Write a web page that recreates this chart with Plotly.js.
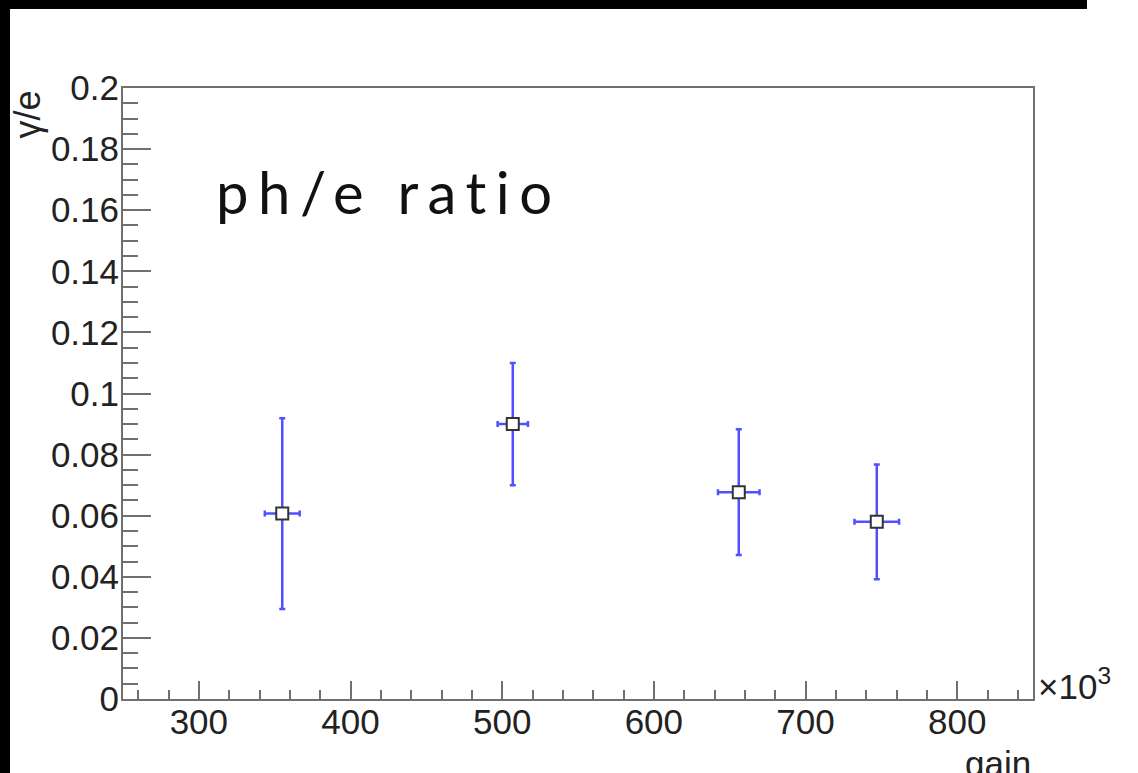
<!DOCTYPE html>
<html>
<head>
<meta charset="utf-8">
<script src="https://cdn.plot.ly/plotly-3.0.1.min.js"></script>
<style>
  html, body { margin: 0; padding: 0; background: #fff; }
  #chart { width: 1138px; height: 773px; position: absolute; left: 0; top: 0; }
  .bar { position: absolute; background: #000; z-index: 10; }
  #chart .annotation[data-index="0"] text { letter-spacing: 9.5px; }
</style>
</head>
<body>
<div id="chart"></div>
<div class="bar" style="left:0;top:0;width:1087px;height:9px;"></div>
<div class="bar" style="left:0;top:0;width:10px;height:773px;"></div>
<script>
// Data (gain in units of 10^3)
const gain = [355, 507, 656, 747];
const gainErr = [11.5, 10, 13.7, 14.7];
const ratio = [0.0607, 0.0900, 0.0677, 0.0580];
const ratioErr = [0.0312, 0.0200, 0.0206, 0.0188];
const xTicks = [300, 400, 500, 600, 700, 800];
const yTicks = [0, 0.02, 0.04, 0.06, 0.08, 0.1, 0.12, 0.14, 0.16, 0.18, 0.2];
const yTickText = ['0', '0.02', '0.04', '0.06', '0.08', '0.1', '0.12', '0.14', '0.16', '0.18', '0.2'];

const axisColor = '#707070';
const tickFont = {family: 'Liberation Sans, Arial, sans-serif', size: 35, color: '#222'};

const trace = {
  type: 'scatter',
  mode: 'markers',
  x: gain,
  y: ratio,
  error_x: {type: 'data', array: gainErr, visible: true, color: 'rgb(80,80,255)', thickness: 2.5, width: 3},
  error_y: {type: 'data', array: ratioErr, visible: true, color: 'rgb(80,80,255)', thickness: 2.5, width: 3},
  marker: {symbol: 'square', size: 12, color: '#fff', line: {color: '#333', width: 2}},
  hoverinfo: 'skip'
};

const layout = {
  width: 1138, height: 773,
  margin: {l: 123, r: 105, t: 88, b: 74},
  paper_bgcolor: '#fff', plot_bgcolor: '#fff',
  showlegend: false,
  xaxis: {
    range: [250, 850],
    tickvals: xTicks,
    ticks: 'inside', ticklen: 18, tickwidth: 2, tickcolor: axisColor,
    minor: {dtick: 20, ticks: 'inside', ticklen: 9, tickwidth: 2, tickcolor: axisColor, showgrid: false},
    showline: true, linecolor: axisColor, linewidth: 2, mirror: true,
    showgrid: false, zeroline: false,
    ticklabelstandoff: -9,
    tickfont: tickFont
  },
  yaxis: {
    range: [0, 0.2],
    tickvals: yTicks, ticktext: yTickText,
    ticks: 'inside', ticklen: 28, tickwidth: 2, tickcolor: axisColor,
    minor: {dtick: 0.005, ticks: 'inside', ticklen: 15, tickwidth: 2, tickcolor: axisColor, showgrid: false},
    showline: true, linecolor: axisColor, linewidth: 2, mirror: true,
    showgrid: false, zeroline: false,
    ticklabelstandoff: -5,
    tickfont: tickFont
  },
  annotations: [
    {text: 'ph/e ratio', xref: 'paper', yref: 'paper', x: 0.292, y: 0.89, xanchor: 'center', yanchor: 'top',
     showarrow: false, font: {family: 'Lato, sans-serif', size: 58, color: '#111'}},
    {text: '\u03b3/e', xref: 'paper', yref: 'paper', x: -0.105, y: 1.0, xanchor: 'center', yanchor: 'top',
     textangle: -90, showarrow: false, font: {family: 'Liberation Sans, Arial, sans-serif', size: 36, color: '#222'}},
    {text: '\u00d710<sup>3</sup>', xref: 'paper', yref: 'paper', x: 1.003, y: -0.015, xanchor: 'left', yanchor: 'bottom',
     showarrow: false, font: {family: 'Liberation Sans, Arial, sans-serif', size: 35, color: '#222'}},
    {text: 'gain', xref: 'paper', yref: 'paper', x: 1.0, y: -0.07, xanchor: 'right', yanchor: 'top',
     showarrow: false, font: {family: 'Liberation Sans, Arial, sans-serif', size: 35, color: '#222'}}
  ]
};

Plotly.newPlot('chart', [trace], layout, {staticPlot: true});
</script>
</body>
</html>
